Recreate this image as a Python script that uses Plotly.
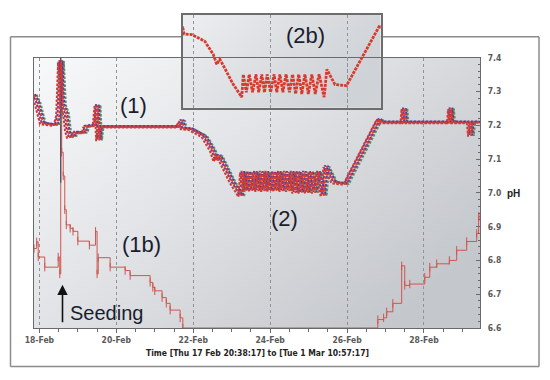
import base64
import numpy as np
import pandas as pd
import plotly.graph_objects as go

# ---------------- data (times = fractional day of February 2011; 29.x = 1 March) ----------------
# pH profile of the controlled cultures, series (1)/(2); (2b) is the same red culture zoomed
ph_t = [17.86, 17.95, 18.10, 18.45, 18.52, 18.57, 18.62, 18.70, 18.75, 18.80,
        18.93, 18.95, 19.19, 19.22, 19.47, 19.52, 19.56, 19.60, 21.62, 21.72,
        21.76, 21.96, 22.30, 22.52, 22.61, 22.69, 22.78, 23.03, 23.26, 23.30,
        23.38, 23.455, 23.54, 23.63, 23.70, 23.78, 23.85, 23.92, 24.01, 24.10,
        24.17, 24.25, 24.33, 24.41, 24.50, 24.58, 24.66, 24.74, 24.82, 24.90,
        24.99, 25.08, 25.17, 25.27, 25.40, 25.47, 25.68, 25.98, 26.85, 26.90,
        27.47, 27.50, 27.53, 28.68, 28.71, 28.74, 29.20, 29.23, 29.26, 29.46]
ph_v = [7.29, 7.27, 7.205, 7.20, 7.23, 7.39, 7.26, 7.235, 7.185, 7.165,
        7.17, 7.178, 7.178, 7.195, 7.20, 7.26, 7.155, 7.195, 7.195, 7.214,
        7.19, 7.188, 7.167, 7.125, 7.094, 7.11, 7.09, 7.032, 6.99, 7.062,
        7.005, 7.062, 7.005, 7.062, 7.005, 7.062, 7.005, 7.062, 7.005, 7.062,
        7.005, 7.062, 7.005, 7.062, 7.005, 7.062, 7.0, 7.062, 7.0, 7.062,
        7.0, 7.062, 7.0, 7.062, 6.99, 7.078, 7.03, 7.026, 7.218, 7.208,
        7.208, 7.25, 7.208, 7.208, 7.25, 7.208, 7.208, 7.168, 7.208, 7.208]

reactor_colors = ["#5f8a6c", "#7f3b8b", "#3d43a0", "#d13a30", "#e2392b"]
reactor_lag_h = [1.6, -1.1, 0.6, -2.0, 0.0]
reactor_dph = [0.0, 0.003, 0.002, -0.002, 0.0]

# uncontrolled culture (1b), step trace
pb_t = [17.86, 17.93, 17.97, 18.14, 18.49, 18.53, 18.555, 18.58, 18.62, 18.66,
        18.70, 18.80, 18.875, 19.00, 19.30, 19.46, 19.50, 19.53, 19.84, 20.23,
        20.36, 20.88, 20.95, 21.00, 21.19, 21.30, 21.40, 21.66, 21.73, 26.80,
        26.95, 27.03, 27.19, 27.42, 27.50, 27.63, 28.02, 28.15, 28.33, 28.66,
        28.85, 29.11, 29.37, 29.42, 29.46]
pb_v = [6.835, 6.855, 6.81, 6.78, 6.81, 6.76, 7.39, 7.12, 7.05, 6.95,
        6.905, 6.895, 6.886, 6.857, 6.845, 6.886, 6.76, 6.808, 6.78, 6.77,
        6.755, 6.735, 6.72, 6.71, 6.69, 6.673, 6.653, 6.63, 6.60, 6.625,
        6.63, 6.648, 6.673, 6.784, 6.726, 6.73, 6.75, 6.78, 6.79, 6.80,
        6.83, 6.856, 6.88, 6.93, 6.93]

# seeding probe trace (short dark line)
seed_t = [18.555, 18.555]
seed_v = [7.40, 7.03]

x_range = ["2011-02-17 20:38:17", "2011-03-01 10:57:17"]
inset_range = ["2011-02-21 17:17", "2011-02-26 20:53"]
y_range = [6.6, 7.4]
inset_y_range = [6.957, 7.25]
x_tick_start = "2011-02-18"

FEB1 = pd.Timestamp("2011-02-01")


def feb_day(d, shift_h=0.0):
    return FEB1 + pd.to_timedelta(np.asarray(d, dtype=float) - 1.0 + shift_h / 24.0, unit="D")


# ---------------- geometry ----------------
W, H = 550, 380
ML, MR, MT, MB = 34, 70, 10, 52
PW, PH = W - ML - MR, H - MT - MB


def px(xp):
    return (xp - ML) / PW


def py(yp):
    return (H - MB - yp) / PH


main_top = py(53.3)
inset_dom_x = [px(182.5), px(380.7)]
inset_dom_y = [py(104), 1.0]

fig = go.Figure()

# 1b step trace
fig.add_trace(go.Scatter(
    x=feb_day(pb_t), y=pb_v, mode="lines+markers", line=dict(color="#d0554f", width=1, shape="hv"),
    marker=dict(symbol="line-ns-open", size=6, line=dict(color="#d0554f", width=1)),
    xaxis="x", yaxis="y", hoverinfo="skip"))

# seeding line
fig.add_trace(go.Scatter(x=feb_day(seed_t), y=seed_v, mode="lines",
                         line=dict(color="#4c5060", width=1.2), xaxis="x", yaxis="y", hoverinfo="skip"))

# controlled cultures
for col, lag, dph in zip(reactor_colors, reactor_lag_h, reactor_dph):
    fig.add_trace(go.Scatter(
        x=feb_day(ph_t, lag), y=np.asarray(ph_v) + dph, mode="lines",
        line=dict(color=col, width=2.0, dash="2.5px,1.5px"), xaxis="x", yaxis="y", hoverinfo="skip"))

# inset (2b)
fig.add_trace(go.Scatter(
    x=feb_day(ph_t), y=ph_v, mode="lines", line=dict(color="#d93a2e", width=2.8, dash="3px,1px"),
    xaxis="x2", yaxis="y2", hoverinfo="skip"))


def grad_uri(stops, x2=1, y2=0.7):
    st = "".join(f'<stop offset="{o}" stop-color="{c}"/>' for o, c in stops)
    svg = ('<svg xmlns="http://www.w3.org/2000/svg" width="200" height="200" preserveAspectRatio="none">'
           f'<defs><linearGradient id="g" x1="0" y1="0" x2="{x2}" y2="{y2}">{st}</linearGradient></defs>'
           '<rect width="200" height="200" fill="url(#g)"/></svg>')
    return "data:image/svg+xml;base64," + base64.b64encode(svg.encode()).decode()


images = [
    dict(source=grad_uri([(0, "#f8f9fa"), (0.45, "#e2e4e7"), (1, "#c4c7cb")]),
         xref="paper", yref="paper", x=0, y=main_top, sizex=1, sizey=main_top,
         xanchor="left", yanchor="top", sizing="stretch", layer="below"),
    dict(source=grad_uri([(0, "#eceef0"), (1, "#cfd2d6")], 1, 0.4),
         xref="paper", yref="paper", x=inset_dom_x[0], y=1.0, sizex=inset_dom_x[1] - inset_dom_x[0],
         sizey=1.0 - inset_dom_y[0], xanchor="left", yanchor="top", sizing="stretch", layer="below"),
]

FR = "#8c8c8c"
fx0, fx1, fy0, fy1 = px(10.5), px(539), py(367), py(32)
shapes = [
    dict(type="line", xref="paper", yref="paper", x0=fx0, x1=fx0, y0=fy0, y1=fy1, line=dict(color=FR, width=1.5), layer="below"),
    dict(type="line", xref="paper", yref="paper", x0=fx1, x1=fx1, y0=fy0, y1=fy1, line=dict(color=FR, width=1.5), layer="below"),
    dict(type="line", xref="paper", yref="paper", x0=fx0, x1=fx1, y0=fy0, y1=fy0, line=dict(color=FR, width=1.5), layer="below"),
    dict(type="line", xref="paper", yref="paper", x0=fx0, x1=inset_dom_x[0], y0=fy1, y1=fy1, line=dict(color=FR, width=1.5), layer="below"),
    dict(type="line", xref="paper", yref="paper", x0=inset_dom_x[1], x1=fx1, y0=fy1, y1=fy1, line=dict(color=FR, width=1.5), layer="below"),
]

LBL = dict(family="Liberation Sans, Arial, sans-serif", size=22, color="#1a1d2e")
TICKF = dict(family="Liberation Sans Narrow, DejaVu Sans Condensed, Liberation Sans, sans-serif",
             size=8.5, color="#5a5a5a", weight="bold")

annotations = [
    dict(text="(1)", x=px(133), y=py(102), font=LBL),
    dict(text="(1b)", x=px(141), y=py(243), font=LBL),
    dict(text="(2)", x=px(284), y=py(217), font=LBL),
    dict(text="(2b)", x=px(305), y=py(31), font=LBL),
    dict(text="Seeding", x=px(106), y=py(313), font=dict(LBL, size=20)),
    dict(text="", x=px(62.5), y=py(284), showarrow=True, ax=0, ay=39, arrowhead=2, arrowsize=1.3,
         arrowwidth=1.6, arrowcolor="#111111"),
    dict(text="<b>pH</b>", x=px(513), y=py(191), font=dict(family="Liberation Sans, Arial, sans-serif", size=10, color="#222")),
    dict(text="<b>Time [Thu 17 Feb 20:38:17] to [Tue 1 Mar 10:57:17]</b>", x=0.5, y=py(353),
         font=dict(family="Liberation Sans Narrow, DejaVu Sans Condensed, Liberation Sans, sans-serif", size=8.5, color="#222")),
]
for a in annotations:
    a.setdefault("xref", "paper")
    a.setdefault("yref", "paper")
    a.setdefault("showarrow", False)
    a.setdefault("xanchor", "center")
    a.setdefault("yanchor", "middle")

AX = "#6a6a6a"
fig.update_layout(
    width=W, height=H, margin=dict(l=ML, r=MR, t=MT, b=MB),
    paper_bgcolor="white", plot_bgcolor="rgba(0,0,0,0)", showlegend=False,
    images=images, shapes=shapes, annotations=annotations,
    xaxis=dict(domain=[0, 1], type="date", range=x_range, tick0=x_tick_start, dtick=2 * 86400000,
               tickformat="%d-%b", ticks="outside", ticklen=4, tickcolor=AX, tickfont=TICKF,
               showline=True, linecolor=AX, linewidth=1.2, mirror=True,
               showgrid=True, gridcolor="#8f9296", griddash="dot", gridwidth=1,
               minor=dict(dtick=43200000, tick0=x_tick_start, ticks="outside", ticklen=3, tickcolor=AX, showgrid=False),
               zeroline=False),
    yaxis=dict(domain=[0, main_top], range=y_range, side="right", dtick=0.1, tickformat=".1f",
               ticks="inside", ticklen=4, tickcolor=AX, tickfont=TICKF, ticklabelstandoff=5,
               showline=True, linecolor=AX, linewidth=1.2, mirror=True, showgrid=False,
               minor=dict(dtick=0.02, ticks="inside", ticklen=2, tickcolor=AX),
               zeroline=False),
    xaxis2=dict(domain=inset_dom_x, anchor="y2", type="date", range=inset_range, tick0=x_tick_start,
                dtick=2 * 86400000, showticklabels=False, ticks="",
                showline=True, linecolor="#6d6d6d", linewidth=1.5, mirror=True,
                showgrid=True, gridcolor="#8f9296", griddash="dot", zeroline=False),
    yaxis2=dict(domain=inset_dom_y, anchor="x2", range=inset_y_range, showticklabels=False, ticks="",
                showline=True, linecolor="#6d6d6d", linewidth=1.5, mirror=True, showgrid=False, zeroline=False),
)

fig.write_html("out.html", config={"displayModeBar": False},
               post_script="document.body.style.margin='0';document.body.style.overflow='hidden';")
